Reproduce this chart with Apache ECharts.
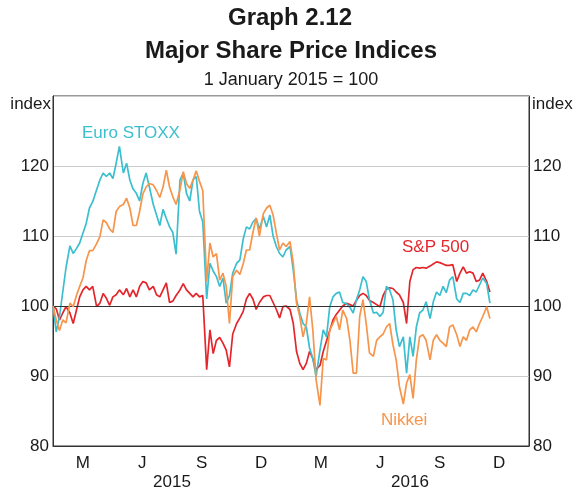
<!DOCTYPE html>
<html>
<head>
<meta charset="utf-8">
<script src="https://cdn.jsdelivr.net/npm/echarts@6/dist/echarts.min.js"></script>
<style>
  html, body { margin: 0; padding: 0; background: #fff; }
  #chart { width: 576px; height: 492px; }
</style>
</head>
<body>
<div id="chart"></div>
<script>
// days since 1 January 2015 for each observation
const dayOffsets = [0,5,10,15,20,26,31,36,41,46,51,56,61,67,72,77,82,87,92,97,
  102,108,113,118,123,128,133,138,143,148,154,159,164,169,174,179,184,189,195,200,
  205,210,215,220,225,230,236,241,246,251,256,261,266,271,276,282,287,292,297,302,
  307,312,317,323,328,333,338,343,348,353,358,364,369,374,379,384,389,394,399,404,
  410,415,420,425,430,435,440,445,451,456,461,466,471,476,481,486,492,497,502,507,
  512,517,522,527,532,538,543,548,553,558,563,568,573,579,584,589,594,599,604,609,
  614,620,625,630,635,640,645,650,655,660,666,671];

const euroStoxx = [100,96.3,98.5,102,105.5,108.6,107.5,108.2,109,110.4,
  111.8,114,114.9,116.6,118,119,118.5,119,118.2,120.4,
  122.8,119,120.4,118,116.7,116.1,115,117.5,119,117,
  114.5,113,111.5,113.8,112.5,111.3,110.5,107.4,118,119,
  116.1,115,118,118.5,113.5,112,101,106.1,105,104.2,
  102.8,104,100.4,101.5,104.7,106.1,106.6,109.5,111.3,111,
  112,112.5,111,112.8,111.3,113,110,108.5,107.5,107,
  108,108.5,105.1,100.9,99,97.5,97,94,92.5,89.9,
  93.7,96.6,95.6,99.9,101.3,101.8,102,100.5,100.3,99.8,
  99,100.9,102.3,104.2,103.5,100.9,99,99.1,98.5,99.1,
  102.8,102.3,100.9,96.6,94.2,95.6,90.4,95.6,92.8,97,
  99,99.4,100.6,98.2,100.6,102,101.5,102.8,101.9,103.7,
  104.2,101,100.5,101.8,101.8,101.5,102.3,102,103,104,
  103.2,100.4];

const nikkei = [100,98,96.5,98,97.6,100.4,99.9,101.5,102.8,104,
  106.5,107.9,107.9,108.9,109.9,112.3,111.9,111,110.5,113.5,
  114.2,114.5,115.4,114,111.5,111.5,113.5,116,117,117.5,
  117.3,116.5,115.5,117,119.4,117,115.6,114.5,116.6,119.2,
  117.5,116.8,118,119.3,117.8,116.5,103.5,109,107,107.5,
  103.7,104.7,102.8,97.5,104.2,105.1,104.5,106,108,108,
  110.5,112.6,110,113.2,114,114.4,113,110.4,108,109,
  108.5,109.2,106.1,100.4,98.5,95.6,97.5,101.3,96.6,89.5,
  85.8,92.5,92.3,96.6,97.5,98.5,96.6,99.4,98.2,95.1,
  90.4,90.4,98.5,100.9,97.5,93.3,92.8,95.1,95.6,96,
  97,97.5,94.5,92.3,88.5,86,89,90.2,86.8,92.3,
  95.6,95.9,95.1,92.3,95.1,95.9,95.1,94.7,94.2,97,
  97.3,95.9,94.2,95.6,95.1,96.6,97,96.3,97.5,98.5,
  99.9,98.2];

const sp500 = [100,99.6,98,99,99.9,99,97.5,99.4,101.3,102.3,
  102.8,102.3,102.8,99.9,100.4,101.8,101.1,100.1,101.3,101.6,
  102.3,101.6,102.5,101.3,102.3,101.3,102.8,103.5,103.3,102.3,
  102.8,101.6,101.3,102.3,103.3,100.5,100.7,101.5,102.3,103.2,
  102.3,101.8,101.3,101.8,101.3,101.5,90.9,96.6,93.2,95.1,
  95.5,94.7,93.7,91.3,96,97.5,98.3,99.2,101,101.8,
  101,99.5,100.5,101.3,101.5,101.5,100.5,99.5,98.3,99.9,
  100,99.5,97.5,93.5,91.8,90.9,91.8,93.5,92.5,90.9,
  91.5,93.5,95,96.5,98,98.8,99.4,100,100.4,100.2,
  100,100.8,101.5,101.8,101.5,100.8,100.5,100.2,99.9,101.5,
  102.4,102.6,102.5,102,101.6,100.5,97.5,103.5,105.2,105.5,
  105.4,105.5,105.4,105.7,106,106.3,106.2,106,105.8,105.8,
  105.9,103.5,104.7,105.6,104.7,104.9,104.7,103.5,103.7,104.7,
  103.5,102];

const quarterLabels = ['M', 'J', 'S', 'D', 'M', 'J', 'S', 'D'];
const yearLabels = ['2015', '2016'];
const totalDays = 731;

const FONT = '"Liberation Sans", Arial, sans-serif';
const TEXT = '#1a1a1a';

function pairs(values) {
  return values.map((v, i) => [dayOffsets[i], v]);
}

function label(text, x, y, opts) {
  return {
    type: 'text',
    x: x,
    y: y,
    silent: true,
    style: Object.assign({
      text: text,
      fill: TEXT,
      font: '17px ' + FONT,
      textAlign: 'center',
      textVerticalAlign: 'middle',
      align: 'center',
      verticalAlign: 'middle'
    }, opts || {})
  };
}

const chart = echarts.init(document.getElementById('chart'));

const option = {
  animation: false,
  grid: {
    left: 53,
    right: 47,
    top: 96,
    bottom: 46,
    show: true,
    borderColor: '#333',
    borderWidth: 1
  },
  xAxis: [
    {
      type: 'category',
      data: quarterLabels,
      boundaryGap: true,
      axisLine: { lineStyle: { color: '#333', width: 1 } },
      axisTick: { inside: true, length: 6, lineStyle: { color: '#333' } },
      axisLabel: { color: TEXT, fontSize: 17, fontFamily: FONT, margin: 9 },
      splitLine: { show: false }
    },
    {
      type: 'category',
      data: yearLabels,
      position: 'bottom',
      offset: 19,
      axisLine: { show: false },
      axisTick: { show: false },
      axisLabel: { color: TEXT, fontSize: 17, fontFamily: FONT, margin: 9 },
      splitLine: { show: false }
    },
    {
      type: 'value',
      min: 0,
      max: totalDays,
      show: false
    }
  ],
  yAxis: [
    {
      type: 'value',
      position: 'left',
      min: 80,
      max: 130,
      interval: 10,
      axisLine: { show: true, lineStyle: { color: '#333' } },
      axisTick: { show: false },
      axisLabel: {
        color: TEXT, fontSize: 17, fontFamily: FONT, margin: 4,
        formatter: v => (v === 130 ? '' : v)
      },
      splitLine: { lineStyle: { color: '#cccccc', width: 1 } }
    },
    {
      type: 'value',
      position: 'right',
      min: 80,
      max: 130,
      interval: 10,
      axisLine: { show: true, lineStyle: { color: '#333' } },
      axisTick: { show: false },
      axisLabel: {
        color: TEXT, fontSize: 17, fontFamily: FONT, margin: 4,
        formatter: v => (v === 130 ? '' : v)
      },
      splitLine: { show: false }
    }
  ],
  series: [
    {
      name: 'S&P 500',
      type: 'line',
      xAxisIndex: 2,
      yAxisIndex: 0,
      showSymbol: false,
      data: pairs(sp500),
      lineStyle: { color: '#e3262b', width: 1.7 },
      itemStyle: { color: '#e3262b' },
      markLine: {
        silent: true,
        symbol: 'none',
        label: { show: false },
        lineStyle: { color: '#333', width: 1, type: 'solid' },
        data: [{ yAxis: 100 }]
      },
      z: 3
    },
    {
      name: 'Euro STOXX',
      type: 'line',
      xAxisIndex: 2,
      yAxisIndex: 0,
      showSymbol: false,
      data: pairs(euroStoxx),
      lineStyle: { color: '#3bbfce', width: 1.7 },
      itemStyle: { color: '#3bbfce' },
      z: 4
    },
    {
      name: 'Nikkei',
      type: 'line',
      xAxisIndex: 2,
      yAxisIndex: 0,
      showSymbol: false,
      data: pairs(nikkei),
      lineStyle: { color: '#f6954b', width: 1.7 },
      itemStyle: { color: '#f6954b' },
      z: 5
    }
  ],
  graphic: [
    label('Graph 2.12', 290, 18, { font: 'bold 24px ' + FONT }),
    label('Major Share Price Indices', 291, 51, { font: 'bold 24px ' + FONT }),
    label('1 January 2015 = 100', 291, 80, { font: '18px ' + FONT }),
    label('index', 51, 104, { textAlign: 'right', align: 'right' }),
    label('index', 532, 104, { textAlign: 'left', align: 'left' }),
    label('Euro STOXX', 82, 133, { fill: '#3bbfce', textAlign: 'left', align: 'left' }),
    label('S&P 500', 402, 247, { fill: '#e3262b', textAlign: 'left', align: 'left' }),
    label('Nikkei', 381, 420, { fill: '#f6954b', textAlign: 'left', align: 'left' })
  ]
};

chart.setOption(option);
</script>
</body>
</html>
